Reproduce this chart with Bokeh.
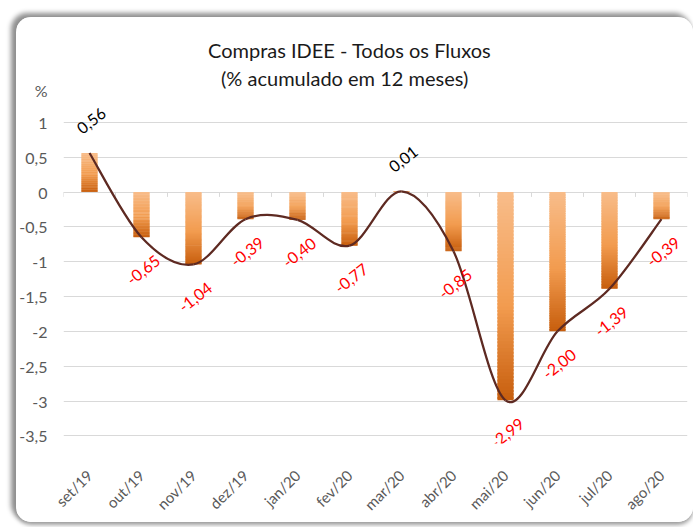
import numpy as np
from math import radians, pi
from bokeh.plotting import figure
from bokeh.models import FixedTicker, Title, Range1d
from bokeh.core.properties import value
from bokeh.embed import file_html
from bokeh.resources import INLINE

# ---- data ----
months = ["set/19", "out/19", "nov/19", "dez/19", "jan/20", "fev/20",
          "mar/20", "abr/20", "mai/20", "jun/20", "jul/20", "ago/20"]
values = [0.56, -0.65, -1.04, -0.39, -0.40, -0.77, 0.01, -0.85, -2.99, -2.00, -1.39, -0.39]
value_labels = ["0,56", "-0,65", "-1,04", "-0,39", "-0,40", "-0,77",
                "0,01", "-0,85", "-2,99", "-2,00", "-1,39", "-0,39"]
y_ticks = [1, 0.5, 0, -0.5, -1, -1.5, -2, -2.5, -3, -3.5]
y_tick_labels = ["1", "0,5", "0", "-0,5", "-1", "-1,5", "-2", "-2,5", "-3", "-3,5"]
title_lines = ["Compras IDEE - Todos os Fluxos", "(% acumulado em 12 meses)"]
unit_label = "%"

FONT = "Lato"
GRAY = "#595959"
n = len(values)
xs = list(range(n))
unit_pos = 1.46  # where the unit label sits, above the top tick

p = figure(width=677, height=505, title=None,
           x_range=Range1d(-0.5, n - 0.5), y_range=Range1d(-3.61, 1.5),
           output_backend="svg", toolbar_location=None,
           min_border_left=47, min_border_right=6,
           min_border_top=70, min_border_bottom=77)
p.styles = {"margin-left": "16px", "margin-top": "17px",
            "border-radius": "15px",
            "box-shadow": "-4px -3px 5px 1px #8f8f8f, 0px 3px 4px 0px #a0a0a0",
            "overflow": "hidden"}
p.background_fill_color = "white"
p.border_fill_color = "white"
p.outline_line_color = None

# grid / axes
p.xgrid.grid_line_color = None
p.ygrid.ticker = FixedTicker(ticks=y_ticks)
p.ygrid.grid_line_color = "#d9d9d9"
p.ygrid.grid_line_width = 1

overrides = {float(t): l for t, l in zip(y_ticks, y_tick_labels)}
overrides[unit_pos] = unit_label
p.yaxis.ticker = FixedTicker(ticks=y_ticks + [unit_pos])
p.yaxis.major_label_overrides = overrides
p.yaxis.axis_line_color = None
p.yaxis.major_tick_line_color = None
p.yaxis.minor_tick_line_color = None
p.yaxis.major_label_standoff = 10
p.yaxis.major_label_text_font = FONT
p.yaxis.major_label_text_font_size = "16px"
p.yaxis.major_label_text_color = GRAY

p.xaxis.ticker = FixedTicker(ticks=xs)
p.xaxis.major_label_overrides = {i: m for i, m in enumerate(months)}
p.xaxis.major_label_orientation = pi / 4
p.xaxis.axis_line_color = None
p.xaxis.major_tick_line_color = None
p.xaxis.minor_tick_line_color = None
p.xaxis.major_label_standoff = 23
p.xaxis.major_label_text_font = FONT
p.xaxis.major_label_text_font_size = "15px"
p.xaxis.major_label_text_color = GRAY

# category tick marks on the zero line
bounds = [i - 0.5 for i in range(n + 1)]
p.segment(x0=bounds, y0=[0] * len(bounds), x1=bounds, y1=[-0.07] * len(bounds),
          line_color="#d9d9d9", line_width=1)

# gradient bars (light at top, dark at bottom)
stops = [(0.0, (248, 189, 138)), (0.55, (242, 155, 79)), (1.0, (199, 94, 13))]

def grad(t):
    for (t0, c0), (t1, c1) in zip(stops[:-1], stops[1:]):
        if t <= t1:
            f = (t - t0) / (t1 - t0)
            return "#%02x%02x%02x" % tuple(int(round(a + (b - a) * f)) for a, b in zip(c0, c1))
    return "#%02x%02x%02x" % stops[-1][1]

bw = 0.31
N = 60
L, R, T, B, C = [], [], [], [], []
for i, v in enumerate(values):
    top, bot = max(v, 0), min(v, 0)
    edges = np.linspace(top, bot, N + 1)
    step = (top - bot) / N
    for k in range(N):
        L.append(i - bw / 2); R.append(i + bw / 2)
        T.append(edges[k])
        B.append(max(edges[k + 1] - (0.6 * step if k < N - 1 else 0), bot))
        C.append(grad((k + 0.5) / N))
p.quad(left=L, right=R, top=T, bottom=B, fill_color=C, line_color=None)

# smooth line (Catmull-Rom Bezier through bar ends)
pts = list(zip(xs, values))
x0s, y0s, x1s, y1s, cx0, cy0, cx1, cy1 = ([] for _ in range(8))
for i in range(n - 1):
    P0 = pts[i - 1] if i > 0 else pts[i]
    P1 = pts[i]
    P2 = pts[i + 1]
    P3 = pts[i + 2] if i + 2 < n else pts[i + 1]
    x0s.append(P1[0]); y0s.append(P1[1]); x1s.append(P2[0]); y1s.append(P2[1])
    cx0.append(P1[0] + (P2[0] - P0[0]) / 6); cy0.append(P1[1] + (P2[1] - P0[1]) / 6)
    cx1.append(P2[0] - (P3[0] - P1[0]) / 6); cy1.append(P2[1] - (P3[1] - P1[1]) / 6)
p.bezier(x0=x0s, y0=y0s, x1=x1s, y1=y1s, cx0=cx0, cy0=cy0, cx1=cx1, cy1=cy1,
         line_color="#5e2a22", line_width=2.25)

# data labels
p.text(x=xs, y=values, text=value_labels,
       text_color=["black" if v >= 0 else "red" for v in values],
       x_offset=2, y_offset=[-32 if v >= 0 else 33 for v in values],
       angle=radians(38), text_align="center", text_baseline="middle",
       text_font=value(FONT), text_font_size="16px")

# title lines (stacked above the frame, nearest first)
p.add_layout(Title(text=title_lines[1], align="left", offset=157.5, standoff=-4.5,
                   text_font=FONT, text_font_size="20px", text_font_style="normal",
                   text_color="#1a1a1a"), "above")
p.add_layout(Title(text=title_lines[0], align="left", offset=144.5, standoff=8,
                   text_font=FONT, text_font_size="20px", text_font_style="normal",
                   text_color="#1a1a1a"), "above")

open("out.html", "w").write(file_html(p, INLINE))
